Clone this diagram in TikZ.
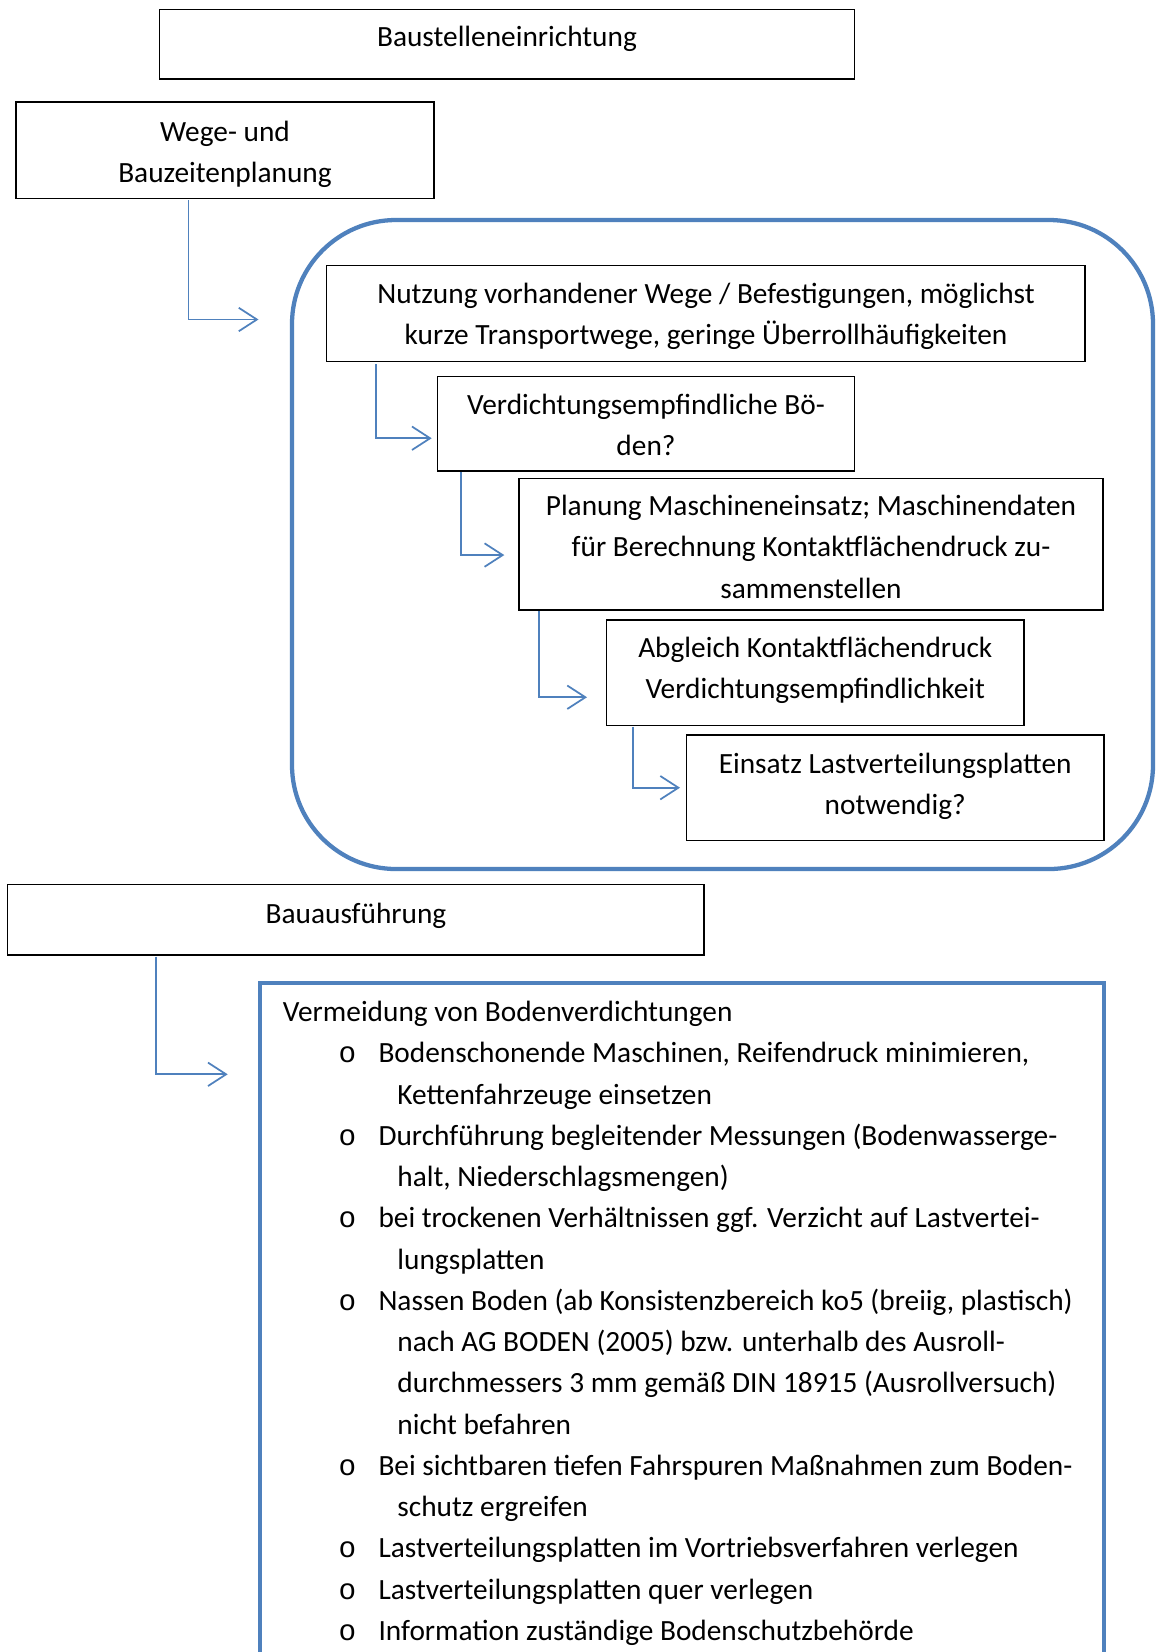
\documentclass[tikz,border=0pt]{standalone}
\usepackage{fontspec}
\setmainfont{Carlito}
\setmonofont{Liberation Mono}
\usetikzlibrary{arrows.meta,calc,fit}
\definecolor{accent}{RGB}{79,129,189}
\begin{document}
\begin{tikzpicture}[x=0.375pt,y=-0.375pt,
  box/.style={draw=black,line width=0.45pt,inner sep=0pt,outer sep=0pt},
  grpbox/.style={draw=accent,line width=1.6pt,inner sep=0pt,outer sep=0pt,rounded corners=39pt},
  listbox/.style={draw=accent,line width=1.65pt,inner sep=0pt,outer sep=0pt},
  txt/.style={inner sep=0pt,anchor=base,align=center,font=\fontsize{11}{15.47}\selectfont},
  ltxt/.style={inner sep=0pt,anchor=base west,align=left,font=\fontsize{11}{15.47}\selectfont},
  bul/.style={inner sep=0pt,anchor=base,font=\fontsize{11}{15.47}\selectfont\ttfamily},
  arr/.style={draw=accent,line width=0.65pt,-{Straight Barb[length=6.8pt,width=8.8pt]}}
]
\useasboundingbox (0,0) rectangle (1157,1652);
\fill[white] (0,0) rectangle (1157,1652);
\clip (0,0) rectangle (1157,1652);

% top boxes (multi-line text nodes are placed at the baseline of their last line)
\node[box,fit={(159.5,9.5) (854.5,79)}] (bau) {};
\node[txt] (tbau) at (507,46.8) {Baustelleneinrichtung};

\node[box,fit={(16,102) (434,198.5)}] (wege) {};
\node[txt] (twege) at (225,182.75) {Wege- und\\Bauzeitenplanung};

% group
\node[grpbox,fit={(292,220) (1153,869)}] (grp) {};

\node[box,fit={(326.5,265.5) (1085,361.5)}] (nutz) {};
\node[txt] (tnutz) at (706,344.75) {Nutzung vorhandener Wege / Befestigungen, möglichst\\kurze Transportwege, geringe Überrollhäufigkeiten};

\node[box,fit={(437.5,376.5) (854.5,471)}] (verd) {};
\node[txt] (tverd) at (646,455.75) {Verdichtungsempfindliche Bö-\\den?};

\node[box,fit={(518.9,478.3) (1103,610)}] (plan) {};
\node[txt] (tplan) at (811,598) {Planung Maschineneinsatz; Maschinendaten\\für Berechnung Kontaktflächendruck zu-\\sammenstellen};

\node[box,fit={(606.5,620) (1024,725.5)}] (abg) {};
\node[txt] (tabg) at (815.3,698.75) {Abgleich Kontaktflächendruck\\Verdichtungsempfindlichkeit};

\node[box,fit={(686.4,735) (1104,840.7)}] (eins) {};
\node[txt] (teins) at (895.2,814.55) {Einsatz Lastverteilungsplatten\\notwendig?};

% execution
\node[box,fit={(7.7,884.5) (704,955)}] (aus) {};
\node[txt] (taus) at (356,923) {Bauausführung};

\node[listbox,fit={(260,983) (1104,1720)}] (list) {};
\node[ltxt] (l0) at (282.4,1021.7) {Vermeidung von Bodenverdichtungen};

\node[bul] (b1) at (347.5,1062.94) {o};
\node[ltxt] (l1) at (378,1104.18) {Bodenschonende Maschinen, Reifendruck minimieren,\\\hspace*{7.1pt}Kettenfahrzeuge einsetzen};
\node[bul] (b2) at (347.5,1145.42) {o};
\node[ltxt] (l2) at (378,1186.66) {Durchführung begleitender Messungen (Bodenwasserge-\\\hspace*{7.1pt}halt, Niederschlagsmengen)};
\node[bul] (b3) at (347.5,1227.9) {o};
\node[ltxt] (l3) at (378,1269.14) {bei trockenen Verhältnissen ggf. Verzicht auf Lastvertei-\\\hspace*{7.1pt}lungsplatten};
\node[bul] (b4) at (347.5,1310.38) {o};
\node[ltxt] (l4) at (378,1434.1) {Nassen Boden (ab Konsistenzbereich ko5 (breiig, plastisch)\\\hspace*{7.1pt}nach AG BODEN (2005) bzw. unterhalb des Ausroll-\\\hspace*{7.1pt}durchmessers 3 mm gemäß DIN 18915 (Ausrollversuch)\\\hspace*{7.1pt}nicht befahren};
\node[bul] (b5) at (347.5,1475.34) {o};
\node[ltxt] (l5) at (378,1516.58) {Bei sichtbaren tiefen Fahrspuren Maßnahmen zum Boden-\\\hspace*{7.1pt}schutz ergreifen};
\node[bul] (b6) at (347.5,1557.82) {o};
\node[ltxt] (l6) at (378,1557.82) {Lastverteilungsplatten im Vortriebsverfahren verlegen};
\node[bul] (b7) at (347.5,1599.06) {o};
\node[ltxt] (l7) at (378,1599.06) {Lastverteilungsplatten quer verlegen};
\node[bul] (b8) at (347.5,1640.3) {o};
\node[ltxt] (l8) at (378,1640.3) {Information zuständige Bodenschutzbehörde};

% connectors
\draw[arr] ($(wege.south west)+(172.6,1.5)$) |- ($(grp.west)+(-33.5,-225)$);
\draw[arr] ($(nutz.south west)+(49.5,2.5)$) |- ($(verd.west)+(-5.8,14.5)$);
\draw[arr] ($(verd.south west)+(23.5,1)$) |- ($(plan.west)+(-14.6,10.9)$);
\draw[arr] ($(plan.south west)+(19.8,1)$) |- ($(abg.west)+(-19.5,24.5)$);
\draw[arr] ($(abg.south west)+(26.8,1)$) |- ($(eins.west)+(-6.4,-0.15)$);
\draw[arr] ($(aus.south west)+(148.1,1.5)$) |- ($(list.north west)+(-32.3,91.3)$);
\end{tikzpicture}
\end{document}
